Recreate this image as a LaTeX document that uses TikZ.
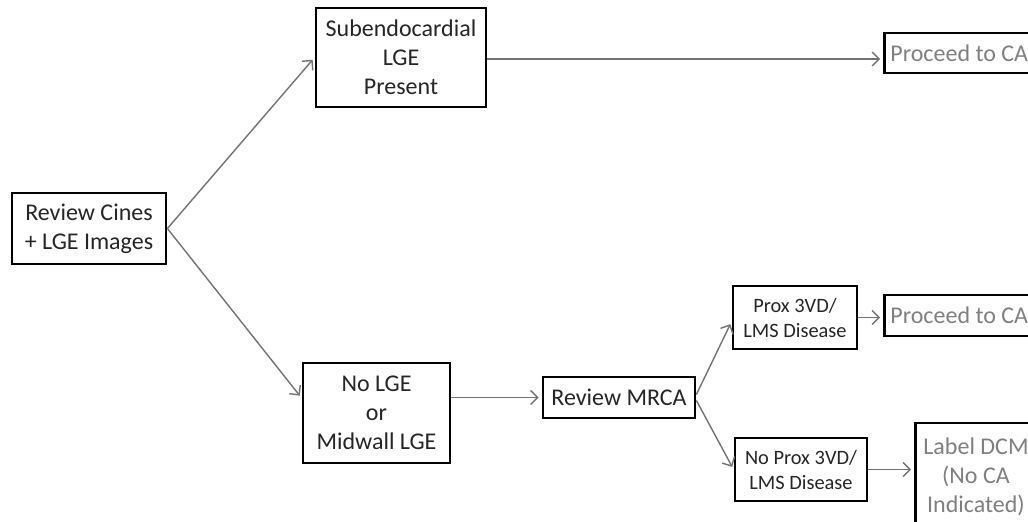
\documentclass[tikz,border=0pt]{standalone}
\usepackage{fontspec}
\setmainfont{Carlito}
\usetikzlibrary{arrows.meta}

\begin{document}
\begin{tikzpicture}[x=0.5pt, y=-0.5pt, font=\fontsize{12}{14.6}\selectfont,
    box/.style={draw, line width=1.4pt, fill=white, align=center, inner sep=2pt, text=black!85},
    small/.style={font=\fontsize{10.2}{12.5}\selectfont},
    done/.style={box, text=black!50, anchor=west, inner xsep=3pt},
    arr/.style={draw=black!55, line width=0.7pt, -{Straight Barb[length=3.5pt, width=7pt]}, shorten >=1.5pt}]
        \useasboundingbox (0, 0) rectangle (1028, 522);
        \clip (0, 0) rectangle (1028, 522);

        \node[box, minimum width=77pt, minimum height=35.5pt] (cines) at (89, 228.5) {Review Cines\\+ LGE Images};
        \node[box, minimum width=85pt, minimum height=49.5pt] (subendo) at (401, 57.5) {Subendocardial\\LGE\\Present};
        \node[box, minimum width=73.5pt, minimum height=50pt] (noLGE) at (376.5, 413) {No LGE\\or\\Midwall LGE};
        \node[box, minimum width=76pt, minimum height=20.5pt] (mrca) at (619, 397.5) {Review MRCA};
        \node[box, small, minimum width=62pt, minimum height=31.5pt] (prox) at (795, 317.5) {Prox 3VD/\\LMS Disease};
        \node[box, small, minimum width=66pt, minimum height=31.5pt] (noProx) at (801, 469.5) {No Prox 3VD/\\LMS Disease};

        \node[done, minimum height=20pt] (proceedA) at (883, 53) {Proceed to CA\hspace*{6pt}};
        \node[done, minimum height=20.5pt] (proceedB) at (883, 315.5) {Proceed to CA\hspace*{6pt}};
        \node[done, inner xsep=4pt, inner ysep=4pt, minimum height=54pt] (dcm) at (914, 477) {Label DCM\\(No CA\\Indicated)};

        \draw[arr] (cines.east) -- (subendo.west);
        \draw[arr] (cines.east) -- ([yshift=7.5pt]noLGE.west);
        \draw[arr] (subendo.east |- 0, 59) -- (proceedA.west |- 0, 59);
        \draw[arr] (noLGE.east |- mrca.west) -- (mrca.west);
        \draw[arr] ([yshift=1.5pt]mrca.east) -- ([yshift=-2pt]prox.west);
        \draw[arr] ([yshift=-1.5pt]mrca.east) -- (noProx.west);
        \draw[arr] (prox.east) -- (prox.east -| proceedB.west);
        \draw[arr] (noProx.east) -- (noProx.east -| dcm.west);
    \end{tikzpicture}
\end{document}
